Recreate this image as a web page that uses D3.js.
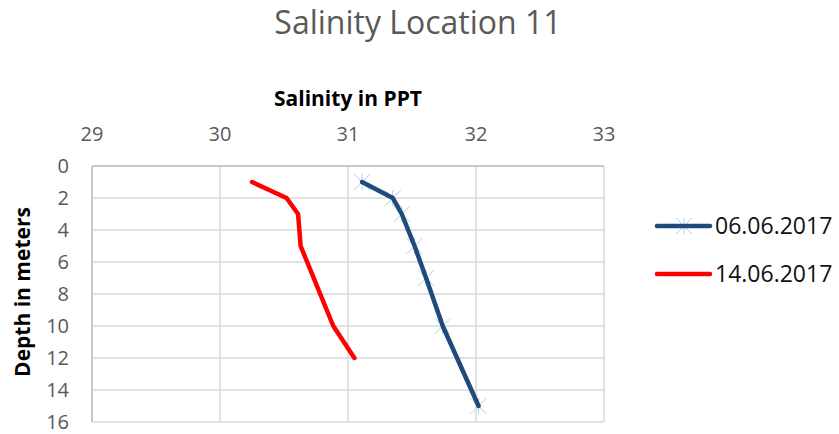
<!DOCTYPE html>
<html>
<head>
<meta charset="utf-8">
<script src="https://cdn.jsdelivr.net/npm/d3@7"></script>
<style>
  body { margin: 0; background: #fff; }
  text { font-family: "Open Sans", sans-serif; }
</style>
</head>
<body>
<svg id="chart" width="839" height="434"></svg>
<script>
// depth (m) and salinity (PPT) per survey date
const depths0606 = [1, 2, 3, 5, 7, 10, 15];
const salinity0606 = [31.11, 31.35, 31.42, 31.52, 31.61, 31.74, 32.02];
const depths1406 = [1, 2, 3, 5, 10, 12];
const salinity1406 = [30.25, 30.52, 30.61, 30.63, 30.885, 31.05];
const xTicks = [29, 30, 31, 32, 33];
const yTicks = [0, 2, 4, 6, 8, 10, 12, 14, 16];
const seriesNames = ["06.06.2017", "14.06.2017"];

const svg = d3.select("#chart");
const width = 839, height = 434;
const plotLeft = 92, plotRight = 604, plotTop = 166, plotBottom = 422;

const x = d3.scaleLinear().domain([29, 33]).range([plotLeft, plotRight]);
const y = d3.scaleLinear().domain([0, 16]).range([plotTop, plotBottom]);

svg.append("rect").attr("width", width).attr("height", height).attr("fill", "#fff");

// gridlines
svg.append("g").selectAll("line")
    .data(yTicks)
    .join("line")
      .attr("x1", plotLeft).attr("x2", plotRight)
      .attr("y1", d => y(d)).attr("y2", d => y(d))
      .attr("stroke", "#d9d9d9").attr("stroke-width", 1.5);
svg.append("g").selectAll("line")
    .data(xTicks)
    .join("line")
      .attr("x1", d => x(d)).attr("x2", d => x(d))
      .attr("y1", plotTop).attr("y2", plotBottom)
      .attr("stroke", "#d9d9d9").attr("stroke-width", 1.5);
// axis lines
svg.append("line").attr("x1", plotLeft).attr("x2", plotRight).attr("y1", plotTop).attr("y2", plotTop)
    .attr("stroke", "#bfbfbf").attr("stroke-width", 1.5);
svg.append("line").attr("x1", plotLeft).attr("x2", plotLeft).attr("y1", plotTop).attr("y2", plotBottom)
    .attr("stroke", "#bfbfbf").attr("stroke-width", 1.5);

// tick labels
svg.append("g").selectAll("text")
    .data(xTicks)
    .join("text")
      .attr("x", d => x(d)).attr("y", 141)
      .attr("text-anchor", "middle")
      .attr("font-size", 20).attr("fill", "#595959")
      .text(d => d);
svg.append("g").selectAll("text")
    .data(yTicks)
    .join("text")
      .attr("x", 69).attr("y", d => y(d))
      .attr("dy", "0.36em")
      .attr("text-anchor", "end")
      .attr("font-size", 20).attr("fill", "#595959")
      .text(d => d);

// titles
svg.append("text")
    .attr("x", 418).attr("y", 34)
    .attr("text-anchor", "middle")
    .attr("font-size", 32).attr("fill", "#595959")
    .text("Salinity Location 11");
svg.append("text")
    .attr("x", (plotLeft + plotRight) / 2).attr("y", 106)
    .attr("text-anchor", "middle")
    .attr("font-size", 21).attr("font-weight", "bold").attr("fill", "#000")
    .text("Salinity in PPT");
svg.append("text")
    .attr("transform", "translate(30," + 292 + ") rotate(-90)")
    .attr("text-anchor", "middle")
    .attr("font-size", 21).attr("font-weight", "bold").attr("fill", "#000")
    .text("Depth in meters");

const line = d3.line().x(d => x(d[0])).y(d => y(d[1]));
const blueData = salinity0606.map((s, i) => [s, depths0606[i]]);
const redData = salinity1406.map((s, i) => [s, depths1406[i]]);

function star(g, cx, cy, r) {
  const m = g.append("g").attr("transform", `translate(${cx},${cy})`)
      .attr("stroke", "#a9d0e6").attr("stroke-width", 1);
  m.append("line").attr("x1", -r).attr("y1", -r).attr("x2", r).attr("y2", r);
  m.append("line").attr("x1", -r).attr("y1", r).attr("x2", r).attr("y2", -r);
  m.append("line").attr("x1", 0).attr("y1", -r).attr("x2", 0).attr("y2", r);
}

// star markers sit under the line
const markers = svg.append("g");
blueData.forEach(d => star(markers, x(d[0]), y(d[1]), 8));

svg.append("path").datum(blueData)
    .attr("d", line).attr("fill", "none")
    .attr("stroke", "#1f4a7c").attr("stroke-width", 4.5)
    .attr("stroke-linejoin", "round").attr("stroke-linecap", "round");
svg.append("path").datum(redData)
    .attr("d", line).attr("fill", "none")
    .attr("stroke", "#ff0000").attr("stroke-width", 4.5)
    .attr("stroke-linejoin", "round").attr("stroke-linecap", "round");

// legend
const legendColors = ["#1f4a7c", "#ff0000"];
const legendY = [226, 274];
seriesNames.forEach((name, i) => {
  const g = svg.append("g");
  if (i === 0) star(g, 684, legendY[i], 8);
  g.append("line")
      .attr("x1", 657).attr("x2", 710)
      .attr("y1", legendY[i]).attr("y2", legendY[i])
      .attr("stroke", legendColors[i]).attr("stroke-width", 4.5)
      .attr("stroke-linecap", "round");
  g.append("text")
      .attr("x", 715).attr("y", legendY[i])
      .attr("dy", "0.36em")
      .attr("font-size", 23).attr("fill", "#111")
      .text(name);
});
</script>
</body>
</html>
